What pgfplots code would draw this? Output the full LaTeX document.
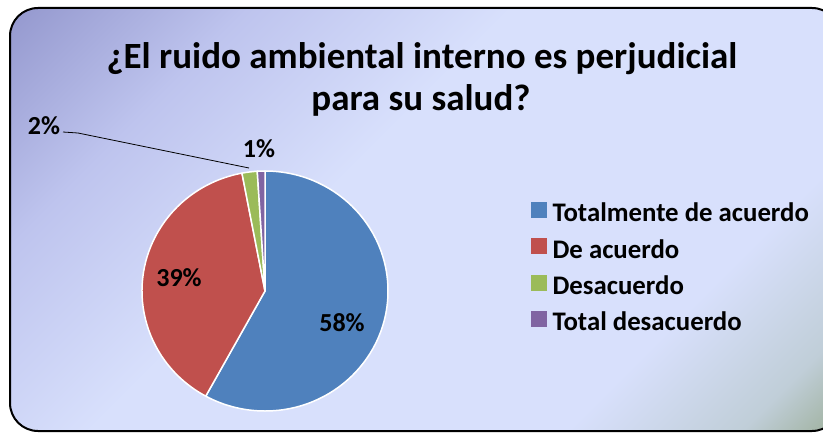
\documentclass[border=0pt]{standalone}
\usepackage{pgfplots}
\pgfplotsset{compat=1.18}
\usepackage{fontspec}
\setmainfont{Carlito}

\definecolor{sliceblue}{RGB}{79,129,189}
\definecolor{slicered}{RGB}{192,80,77}
\definecolor{slicegreen}{RGB}{155,187,89}
\definecolor{slicepurple}{RGB}{128,100,162}
\definecolor{bgpurple}{RGB}{148,152,206}
\definecolor{bgmid}{RGB}{190,196,238}
\definecolor{bglight}{RGB}{216,224,252}
\definecolor{bggreen}{RGB}{158,176,156}
\definecolor{bggreenmid}{RGB}{192,206,216}

\pgfdeclareverticalshading{chartbg}{100bp}{%
  color(0bp)=(bggreen); color(14.6bp)=(bggreen); color(20bp)=(bggreenmid);
  color(30bp)=(bglight);
  color(57bp)=(bglight); color(72bp)=(bgmid); color(85.4bp)=(bgpurple);
  color(100bp)=(bgpurple)}

% shares in percent, clockwise from 12 o'clock
\def\pA{58}\def\pB{39}\def\pC{2}\def\pD{1}
\pgfmathsetmacro\aA{90-3.6*\pA}
\pgfmathsetmacro\aB{\aA-3.6*\pB}
\pgfmathsetmacro\aC{\aB-3.6*\pC}
\pgfmathsetmacro\aD{\aC-3.6*\pD}

% one slice: start angle, end angle, colour
\newcommand\slice[3]{%
  \fill[#3, draw=white, line width=1.5pt, line join=round]
    (axis cs:265,291) -- ++(#1:123pt and 120pt)
    arc[start angle=#1, end angle=#2, x radius=123pt, y radius=120pt] -- cycle;}

\begin{document}
\begin{tikzpicture}
\useasboundingbox (0,0) rectangle (823pt,432pt);
\clip (0,0) rectangle (823pt,432pt);
\fill[white] (0,0) rectangle (823pt,432pt);
\shade[shading=chartbg, shading angle=45, rounded corners=28pt]
  (10pt,424pt) rectangle (840pt,1pt);
\draw[black, line width=2pt, rounded corners=28pt]
  (10pt,424pt) rectangle (840pt,1pt);

\begin{axis}[
    at={(0,0)}, anchor=south west,
    scale only axis,
    width=823pt, height=432pt,
    xmin=0, xmax=823, ymin=0, ymax=432,
    y dir=reverse,
    hide axis,
    clip=false,
    legend style={at={(axis cs:531,202)}, anchor=north west,
      draw=none, fill=none, inner sep=0pt,
      font=\fontsize{26.8}{30}\selectfont\bfseries,
      row sep=10.5pt, column sep=6pt,
      nodes={inner sep=0pt, text height=19pt, text depth=6pt}},
    legend cell align=left,
    legend image code/.code={\fill[#1] (0pt,-2pt) rectangle (15pt,13pt);},
]
\addlegendimage{sliceblue}
\addlegendentry{Totalmente de acuerdo}
\addlegendimage{slicered}
\addlegendentry{De acuerdo}
\addlegendimage{slicegreen}
\addlegendentry{Desacuerdo}
\addlegendimage{slicepurple}
\addlegendentry{Total desacuerdo}

\slice{90}{\aA}{sliceblue}
\slice{\aA}{\aB}{slicered}
\slice{\aB}{\aC}{slicegreen}
\slice{\aC}{\aD}{slicepurple}

\draw[black, line width=0.8pt] (axis cs:63,132) -- (axis cs:78,133) -- (axis cs:249,168);

\node[font=\fontsize{37}{43}\selectfont\bfseries, anchor=base]
  at (axis cs:422,68) {¿El ruido ambiental interno es perjudicial};
\node[font=\fontsize{37}{43}\selectfont\bfseries, anchor=base]
  at (axis cs:421,110) {para su salud?};

\node[font=\fontsize{26}{30}\selectfont\bfseries, anchor=base] at (axis cs:342,331) {58\%};
\node[font=\fontsize{26}{30}\selectfont\bfseries, anchor=base] at (axis cs:179,286) {39\%};
\node[font=\fontsize{26}{30}\selectfont\bfseries, anchor=base] at (axis cs:259,157) {1\%};
\node[font=\fontsize{26}{30}\selectfont\bfseries, anchor=base] at (axis cs:44,134) {2\%};
\end{axis}
\end{tikzpicture}
\end{document}
